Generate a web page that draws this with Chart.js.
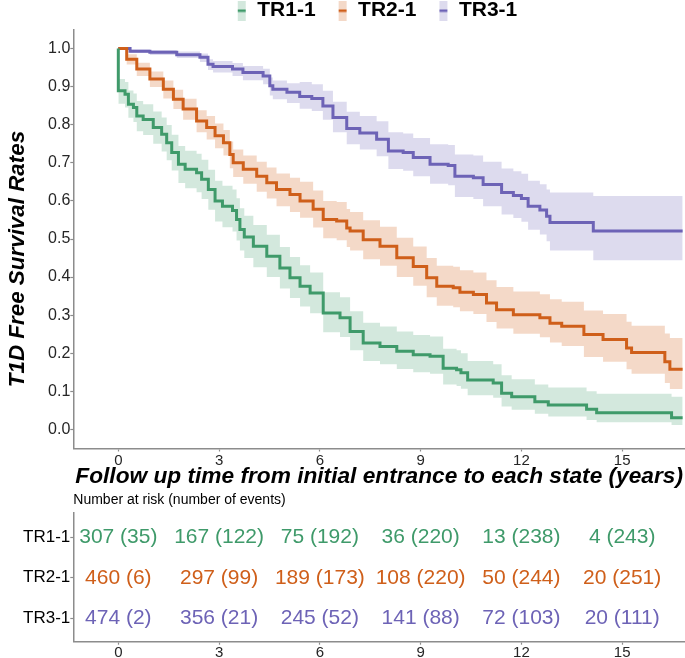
<!DOCTYPE html>
<html><head><meta charset="utf-8">
<script src="https://cdn.jsdelivr.net/npm/chart.js@4.4.1/dist/chart.umd.min.js"></script>
<style>html,body{margin:0;padding:0;background:#fff;} canvas{display:block;}</style>
</head><body>
<canvas id="km" width="685" height="510"></canvas>
<canvas id="risk" width="685" height="148"></canvas>
<script>
// ---------- data ----------
const groups = ["TR1-1", "TR2-1", "TR3-1"];
const xTicks = [0, 3, 6, 9, 12, 15];
const yTicks = [0.0, 0.1, 0.2, 0.3, 0.4, 0.5, 0.6, 0.7, 0.8, 0.9, 1.0];

const tr1Time  = [0, 0, 0.2, 0.3, 0.45, 0.55, 0.74, 1.04, 1.29, 1.44, 1.59, 1.79, 1.99, 2.33, 2.48, 2.68, 2.88, 3.1, 3.4, 3.52, 3.62, 3.75, 4.02, 4.42, 4.81, 5.11, 5.41, 5.71, 6.1, 6.6, 6.9, 7.29, 7.79, 8.29, 8.78, 9.28, 9.67, 10.07, 10.2, 10.4, 11.16, 11.41, 11.71, 12.4, 12.8, 13.94, 14.24, 16.47, 16.8];
const tr1Surv  = [1.0, 0.889, 0.880, 0.854, 0.845, 0.823, 0.814, 0.793, 0.775, 0.753, 0.727, 0.696, 0.683, 0.674, 0.657, 0.630, 0.600, 0.586, 0.575, 0.551, 0.525, 0.505, 0.481, 0.455, 0.424, 0.398, 0.376, 0.358, 0.306, 0.293, 0.257, 0.227, 0.218, 0.205, 0.196, 0.192, 0.161, 0.157, 0.149, 0.130, 0.122, 0.095, 0.086, 0.073, 0.064, 0.053, 0.044, 0.031, 0.031];
const tr1Lower = [1.0, 0.855, 0.845, 0.818, 0.807, 0.783, 0.773, 0.750, 0.730, 0.707, 0.680, 0.647, 0.633, 0.623, 0.605, 0.577, 0.546, 0.531, 0.520, 0.496, 0.470, 0.450, 0.426, 0.400, 0.370, 0.345, 0.323, 0.305, 0.255, 0.243, 0.208, 0.180, 0.171, 0.159, 0.150, 0.146, 0.118, 0.114, 0.107, 0.090, 0.083, 0.060, 0.052, 0.041, 0.034, 0.025, 0.019, 0.012, 0.012];
const tr1Upper = [1.0, 0.920, 0.912, 0.890, 0.882, 0.862, 0.854, 0.835, 0.819, 0.799, 0.774, 0.744, 0.732, 0.724, 0.708, 0.682, 0.653, 0.640, 0.630, 0.607, 0.581, 0.561, 0.537, 0.511, 0.479, 0.453, 0.431, 0.412, 0.360, 0.347, 0.310, 0.280, 0.270, 0.257, 0.248, 0.244, 0.212, 0.208, 0.200, 0.180, 0.171, 0.142, 0.132, 0.118, 0.110, 0.100, 0.094, 0.086, 0.086];

const tr2Time  = [0, 0.25, 0.55, 0.94, 1.34, 1.64, 1.93, 2.33, 2.63, 2.88, 3.13, 3.32, 3.42, 3.72, 4.12, 4.42, 4.71, 5.11, 5.41, 5.8, 6.1, 6.5, 6.8, 6.9, 7.29, 7.79, 8.29, 8.78, 9.18, 9.48, 9.97, 10.17, 10.57, 10.96, 11.26, 11.76, 12.55, 12.85, 13.2, 13.86, 14.43, 15.13, 15.28, 16.27, 16.42, 16.8];
const tr2Surv  = [1.0, 0.972, 0.946, 0.920, 0.893, 0.867, 0.841, 0.810, 0.793, 0.771, 0.753, 0.722, 0.700, 0.683, 0.665, 0.648, 0.630, 0.617, 0.600, 0.578, 0.551, 0.547, 0.529, 0.521, 0.498, 0.481, 0.451, 0.428, 0.398, 0.376, 0.372, 0.360, 0.354, 0.332, 0.314, 0.301, 0.293, 0.279, 0.271, 0.249, 0.236, 0.214, 0.202, 0.178, 0.158, 0.158];
const tr2Lower = [1.0, 0.958, 0.928, 0.899, 0.869, 0.841, 0.813, 0.780, 0.761, 0.738, 0.719, 0.686, 0.663, 0.645, 0.624, 0.606, 0.586, 0.571, 0.556, 0.530, 0.502, 0.497, 0.479, 0.470, 0.447, 0.430, 0.400, 0.377, 0.347, 0.325, 0.321, 0.310, 0.303, 0.282, 0.265, 0.251, 0.242, 0.228, 0.219, 0.190, 0.178, 0.158, 0.146, 0.122, 0.106, 0.106];
const tr2Upper = [1.0, 0.985, 0.963, 0.940, 0.916, 0.892, 0.868, 0.838, 0.823, 0.803, 0.786, 0.756, 0.735, 0.719, 0.703, 0.688, 0.672, 0.661, 0.650, 0.627, 0.600, 0.597, 0.579, 0.571, 0.549, 0.532, 0.503, 0.480, 0.450, 0.430, 0.427, 0.418, 0.412, 0.392, 0.374, 0.362, 0.355, 0.342, 0.335, 0.312, 0.303, 0.283, 0.272, 0.252, 0.240, 0.240];

const tr3Time  = [0, 0.35, 0.94, 1.74, 2.43, 2.67, 2.82, 3.4, 3.71, 4.31, 4.51, 4.6, 5.02, 5.4, 5.76, 6.09, 6.39, 6.8, 7.19, 7.69, 8.04, 8.48, 8.78, 9.28, 9.82, 10.02, 10.57, 10.86, 11.41, 11.76, 12.0, 12.2, 12.55, 12.75, 12.85, 14.14, 16.8];
const tr3Surv  = [1.0, 0.993, 0.990, 0.984, 0.977, 0.959, 0.953, 0.946, 0.937, 0.928, 0.902, 0.893, 0.885, 0.874, 0.869, 0.849, 0.819, 0.790, 0.778, 0.762, 0.731, 0.727, 0.714, 0.696, 0.693, 0.665, 0.661, 0.643, 0.622, 0.614, 0.606, 0.586, 0.576, 0.560, 0.543, 0.521, 0.521];
const tr3Lower = [1.0, 0.988, 0.983, 0.975, 0.965, 0.944, 0.937, 0.928, 0.917, 0.906, 0.877, 0.867, 0.857, 0.842, 0.836, 0.813, 0.780, 0.749, 0.735, 0.717, 0.684, 0.679, 0.665, 0.645, 0.641, 0.610, 0.605, 0.586, 0.564, 0.555, 0.545, 0.524, 0.512, 0.494, 0.470, 0.444, 0.444];
const tr3Upper = [1.0, 0.998, 0.996, 0.992, 0.987, 0.972, 0.967, 0.962, 0.954, 0.947, 0.924, 0.916, 0.909, 0.912, 0.906, 0.889, 0.860, 0.834, 0.823, 0.809, 0.780, 0.777, 0.765, 0.749, 0.747, 0.722, 0.719, 0.703, 0.685, 0.678, 0.671, 0.653, 0.644, 0.630, 0.622, 0.613, 0.613];

const riskTimes = [0, 3, 6, 9, 12, 15];
const tr1AtRisk = [307, 167, 75, 36, 13, 4];
const tr1Events = [35, 122, 192, 220, 238, 243];
const tr2AtRisk = [460, 297, 189, 108, 50, 20];
const tr2Events = [6, 99, 173, 220, 244, 251];
const tr3AtRisk = [474, 356, 245, 141, 72, 20];
const tr3Events = [2, 21, 52, 88, 103, 111];

// ---------- styling ----------
const lineColors = ["#3F9A6A", "#CF5F1A", "#6D63B6"];
const bandColors = ["rgba(65,154,109,0.23)", "rgba(208,98,26,0.24)", "rgba(112,104,182,0.24)"];
const FONT = '"Liberation Sans", Arial, sans-serif';
Chart.defaults.font.family = FONT;
const axisGray = "#8c8c8c";

const series = [
  {t: tr1Time, s: tr1Surv, lo: tr1Lower, hi: tr1Upper},
  {t: tr2Time, s: tr2Surv, lo: tr2Lower, hi: tr2Upper},
  {t: tr3Time, s: tr3Surv, lo: tr3Lower, hi: tr3Upper}
];

function pts(t, arr) { return t.map((x, k) => ({x: x, y: arr[k]})); }

const kmDatasets = [];
series.forEach((sr, i) => {
  kmDatasets.push({label: groups[i] + " upper", data: pts(sr.t, sr.hi), stepped: true, borderWidth: 1,
    borderColor: "rgba(0,0,0,0)", pointRadius: 0, fill: "+1", backgroundColor: bandColors[i], order: 2});
  kmDatasets.push({label: groups[i] + " lower", data: pts(sr.t, sr.lo), stepped: true, borderWidth: 1,
    borderColor: "rgba(0,0,0,0)", pointRadius: 0, fill: false, order: 2});
});
series.forEach((sr, i) => {
  kmDatasets.push({label: groups[i], data: pts(sr.t, sr.s), stepped: true, borderWidth: 3,
    borderColor: lineColors[i], pointRadius: 0, fill: false, order: 1});
});

function swatch(i) {
  const c = document.createElement("canvas");
  c.width = 32; c.height = 20;
  const g = c.getContext("2d");
  g.fillStyle = bandColors[i]; g.fillRect(23, 0, 8, 20);
  g.fillStyle = lineColors[i]; g.fillRect(23, 9, 8, 2.5);
  return c;
}
const swatches = groups.map((g, i) => swatch(i));

const kmExtras = {
  id: "kmExtras",
  afterDraw(chart) {
    const ctx = chart.ctx;
    ctx.save();
    ctx.fillStyle = "#000";
    ctx.font = 'bold italic 22.4px ' + FONT;
    ctx.translate(24, 259);
    ctx.rotate(-Math.PI / 2);
    ctx.textAlign = "center";
    ctx.textBaseline = "alphabetic";
    ctx.fillText("T1D Free Survival Rates", 0, 0);
    ctx.restore();
    ctx.save();
    ctx.fillStyle = "#000";
    ctx.font = '14px ' + FONT;
    ctx.textAlign = "left";
    ctx.textBaseline = "middle";
    ctx.fillText("Number at risk (number of events)", chart.chartArea.left, 500);
    ctx.restore();
  }
};

new Chart(document.getElementById("km"), {
  type: "line",
  data: {datasets: kmDatasets},
  options: {
    responsive: false, animation: false, devicePixelRatio: 1,
    layout: {padding: {left: 47, right: 0, top: 0, bottom: 0}},
    plugins: {
      tooltip: {enabled: false},
      legend: {
        position: "top", align: "center", maxHeight: 29.5,
        labels: {
          usePointStyle: true, pointStyleWidth: 32, padding: 0, color: "#000",
          font: {size: 21, weight: "bold"},
          generateLabels: () => groups.map((g, i) => ({
            text: g, pointStyle: swatches[i], fillStyle: bandColors[i], strokeStyle: lineColors[i],
            lineWidth: 0, hidden: false, datasetIndex: 6 + i, fontColor: "#000"
          }))
        }
      }
    },
    scales: {
      x: {
        type: "linear", min: -1.34, max: 16.87,
        afterBuildTicks: (s) => { s.ticks = xTicks.map(v => ({value: v})); },
        afterFit: (s) => { s.height = 61.5; },
        ticks: {font: {size: 15}, color: "#262626", padding: 0, callback: (v) => String(v), maxRotation: 0},
        grid: {drawOnChartArea: false, drawTicks: true, tickLength: 3, tickColor: axisGray, tickWidth: 1.2},
        border: {display: true, color: axisGray, width: 1.5},
        title: {display: true, text: "Follow up time from initial entrance to each state (years)",
          color: "#000", font: {size: 22.7, weight: "bold", style: "italic"}, padding: {top: 0, bottom: 19.4}}
      },
      y: {
        type: "linear", min: -0.05, max: 1.05,
        afterBuildTicks: (s) => { s.ticks = yTicks.map(v => ({value: v})); },
        afterFit: (s) => { s.width = 26.3; s.paddingTop = 0; s.paddingBottom = 0; },
        ticks: {font: {size: 16}, color: "#262626", padding: 0, callback: (v) => Number(v).toFixed(1)},
        grid: {drawOnChartArea: false, drawTicks: true, tickLength: 3, tickColor: axisGray, tickWidth: 1.2},
        border: {display: true, color: axisGray, width: 1.5}
      }
    }
  },
  plugins: [kmExtras]
});

// ---------- risk table ----------
const riskAtRisk = [tr1AtRisk, tr2AtRisk, tr3AtRisk];
const riskEvents = [tr1Events, tr2Events, tr3Events];
const riskDatasets = groups.map((g, i) => ({
  label: g, data: riskTimes.map(t => ({x: t, y: i + 1})), pointRadius: 0, showLine: false
}));

const riskText = {
  id: "riskText",
  afterDatasetsDraw(chart) {
    const ctx = chart.ctx;
    ctx.save();
    ctx.font = '21px ' + FONT;
    ctx.textAlign = "center";
    ctx.textBaseline = "middle";
    chart.data.datasets.forEach((ds, i) => {
      const meta = chart.getDatasetMeta(i);
      ctx.fillStyle = lineColors[i];
      meta.data.forEach((el, j) => {
        ctx.fillText(riskAtRisk[i][j] + " (" + riskEvents[i][j] + ")", el.x, el.y);
      });
    });
    ctx.restore();
  }
};

new Chart(document.getElementById("risk"), {
  type: "scatter",
  data: {datasets: riskDatasets},
  options: {
    responsive: false, animation: false, devicePixelRatio: 1,
    layout: {padding: {left: 0, right: 0, top: 3, bottom: 0}},
    plugins: {legend: {display: false}, tooltip: {enabled: false}},
    scales: {
      x: {
        type: "linear", min: -1.34, max: 16.87,
        afterBuildTicks: (s) => { s.ticks = xTicks.map(v => ({value: v})); },
        afterFit: (s) => { s.height = 16.3; },
        ticks: {font: {size: 15}, color: "#262626", padding: -1, callback: (v) => String(v), maxRotation: 0},
        grid: {drawOnChartArea: false, drawTicks: true, tickLength: 3, tickColor: axisGray, tickWidth: 1.2},
        border: {display: true, color: axisGray, width: 1.5}
      },
      y: {
        type: "linear", min: 0.4, max: 3.58, reverse: true,
        afterBuildTicks: (s) => { s.ticks = [1, 2, 3].map(v => ({value: v})); },
        afterFit: (s) => { s.width = 73.3; s.paddingTop = 0; s.paddingBottom = 0; },
        ticks: {font: {size: 17}, color: "#000", padding: 0, callback: (v) => groups[v - 1]},
        grid: {drawOnChartArea: false, drawTicks: true, tickLength: 3, tickColor: axisGray, tickWidth: 1.2},
        border: {display: true, color: axisGray, width: 1.5}
      }
    }
  },
  plugins: [riskText]
});
</script>
</body></html>
